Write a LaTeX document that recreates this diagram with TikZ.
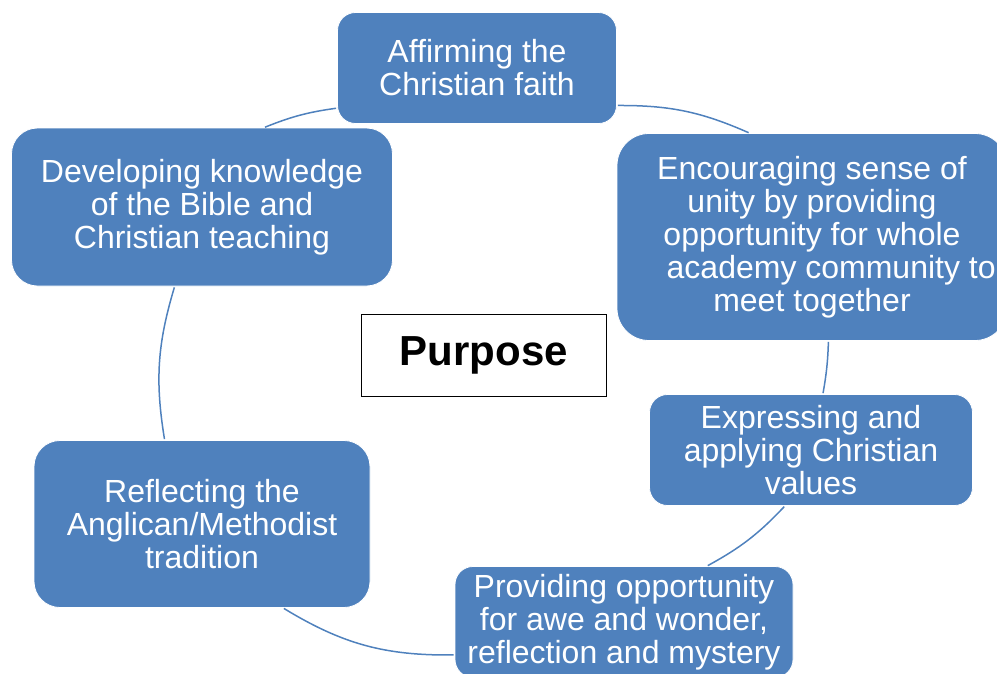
\documentclass[tikz,border=0pt]{standalone}
\usepackage{fontspec}
\setmainfont{Liberation Sans}
\usepackage{xcolor}
\usetikzlibrary{positioning}
\definecolor{cycleblue}{HTML}{4F81BD}

\begin{document}
\begin{tikzpicture}
        [x=1pt,y=-1pt,
        stage/.style={rectangle,fill=cycleblue,draw=white,thick,text=white,align=center,inner sep=0pt,font=\fontsize{32}{33}\selectfont,execute at begin node={\vspace*{7pt}}},
        core/.style={rectangle,draw=black,semithick,fill=white,inner sep=0pt,minimum width=245pt,minimum height=82pt,font=\fontsize{42}{44}\selectfont\bfseries},
        link/.style={-,cycleblue,line width=1.5pt,shorten <=1pt,shorten >=1pt}]

\useasboundingbox (0,0) rectangle (997,673);
\clip (0,0) rectangle (997,673);

% stages
\node[stage,minimum width=279pt,minimum height=111pt,rounded corners=18pt] at (477,68) (faith) {Affirming the\\Christian faith};

\node[stage,minimum width=390pt,minimum height=207pt,rounded corners=32pt] at (812,237) (unity) {Encouraging sense of\\unity by providing\\opportunity for whole\\\hspace*{1.2em}academy community to\\meet together};

\node[stage,minimum width=323pt,minimum height=111pt,rounded corners=18pt] at (811,450) (values) {Expressing and\\applying Christian\\values};

\node[stage,minimum width=338pt,minimum height=111pt,rounded corners=18pt] at (624,622) (awe) {Providing opportunity\\for awe and wonder,\\reflection and mystery};

\node[stage,minimum width=336pt,minimum height=167pt,rounded corners=26pt] at (202,524) (tradition) {Reflecting the\\Anglican/Methodist\\tradition};

\node[stage,minimum width=381pt,minimum height=158pt,rounded corners=26pt] at (202,207) (bible) {Developing knowledge\\of the Bible and\\Christian teaching};

% centre
\node[core] at (484,355) (purpose) {\raisebox{-2pt}{Purpose}};

% arcs
\draw[link] (bible.52) to[bend left=7] (faith.196);
\draw[link] (faith.-15) to[bend left=12] (unity.121);
\draw[link] (unity.-81) to[bend left=4] (values.78);
\draw[link] (values.-115) to[bend left=9] (awe.34);
\draw[link] (awe.191) to[bend left=16] (tradition.-46);
\draw[link] (tradition.114) to[bend left=13] (bible.-109);

\end{tikzpicture}
\end{document}
